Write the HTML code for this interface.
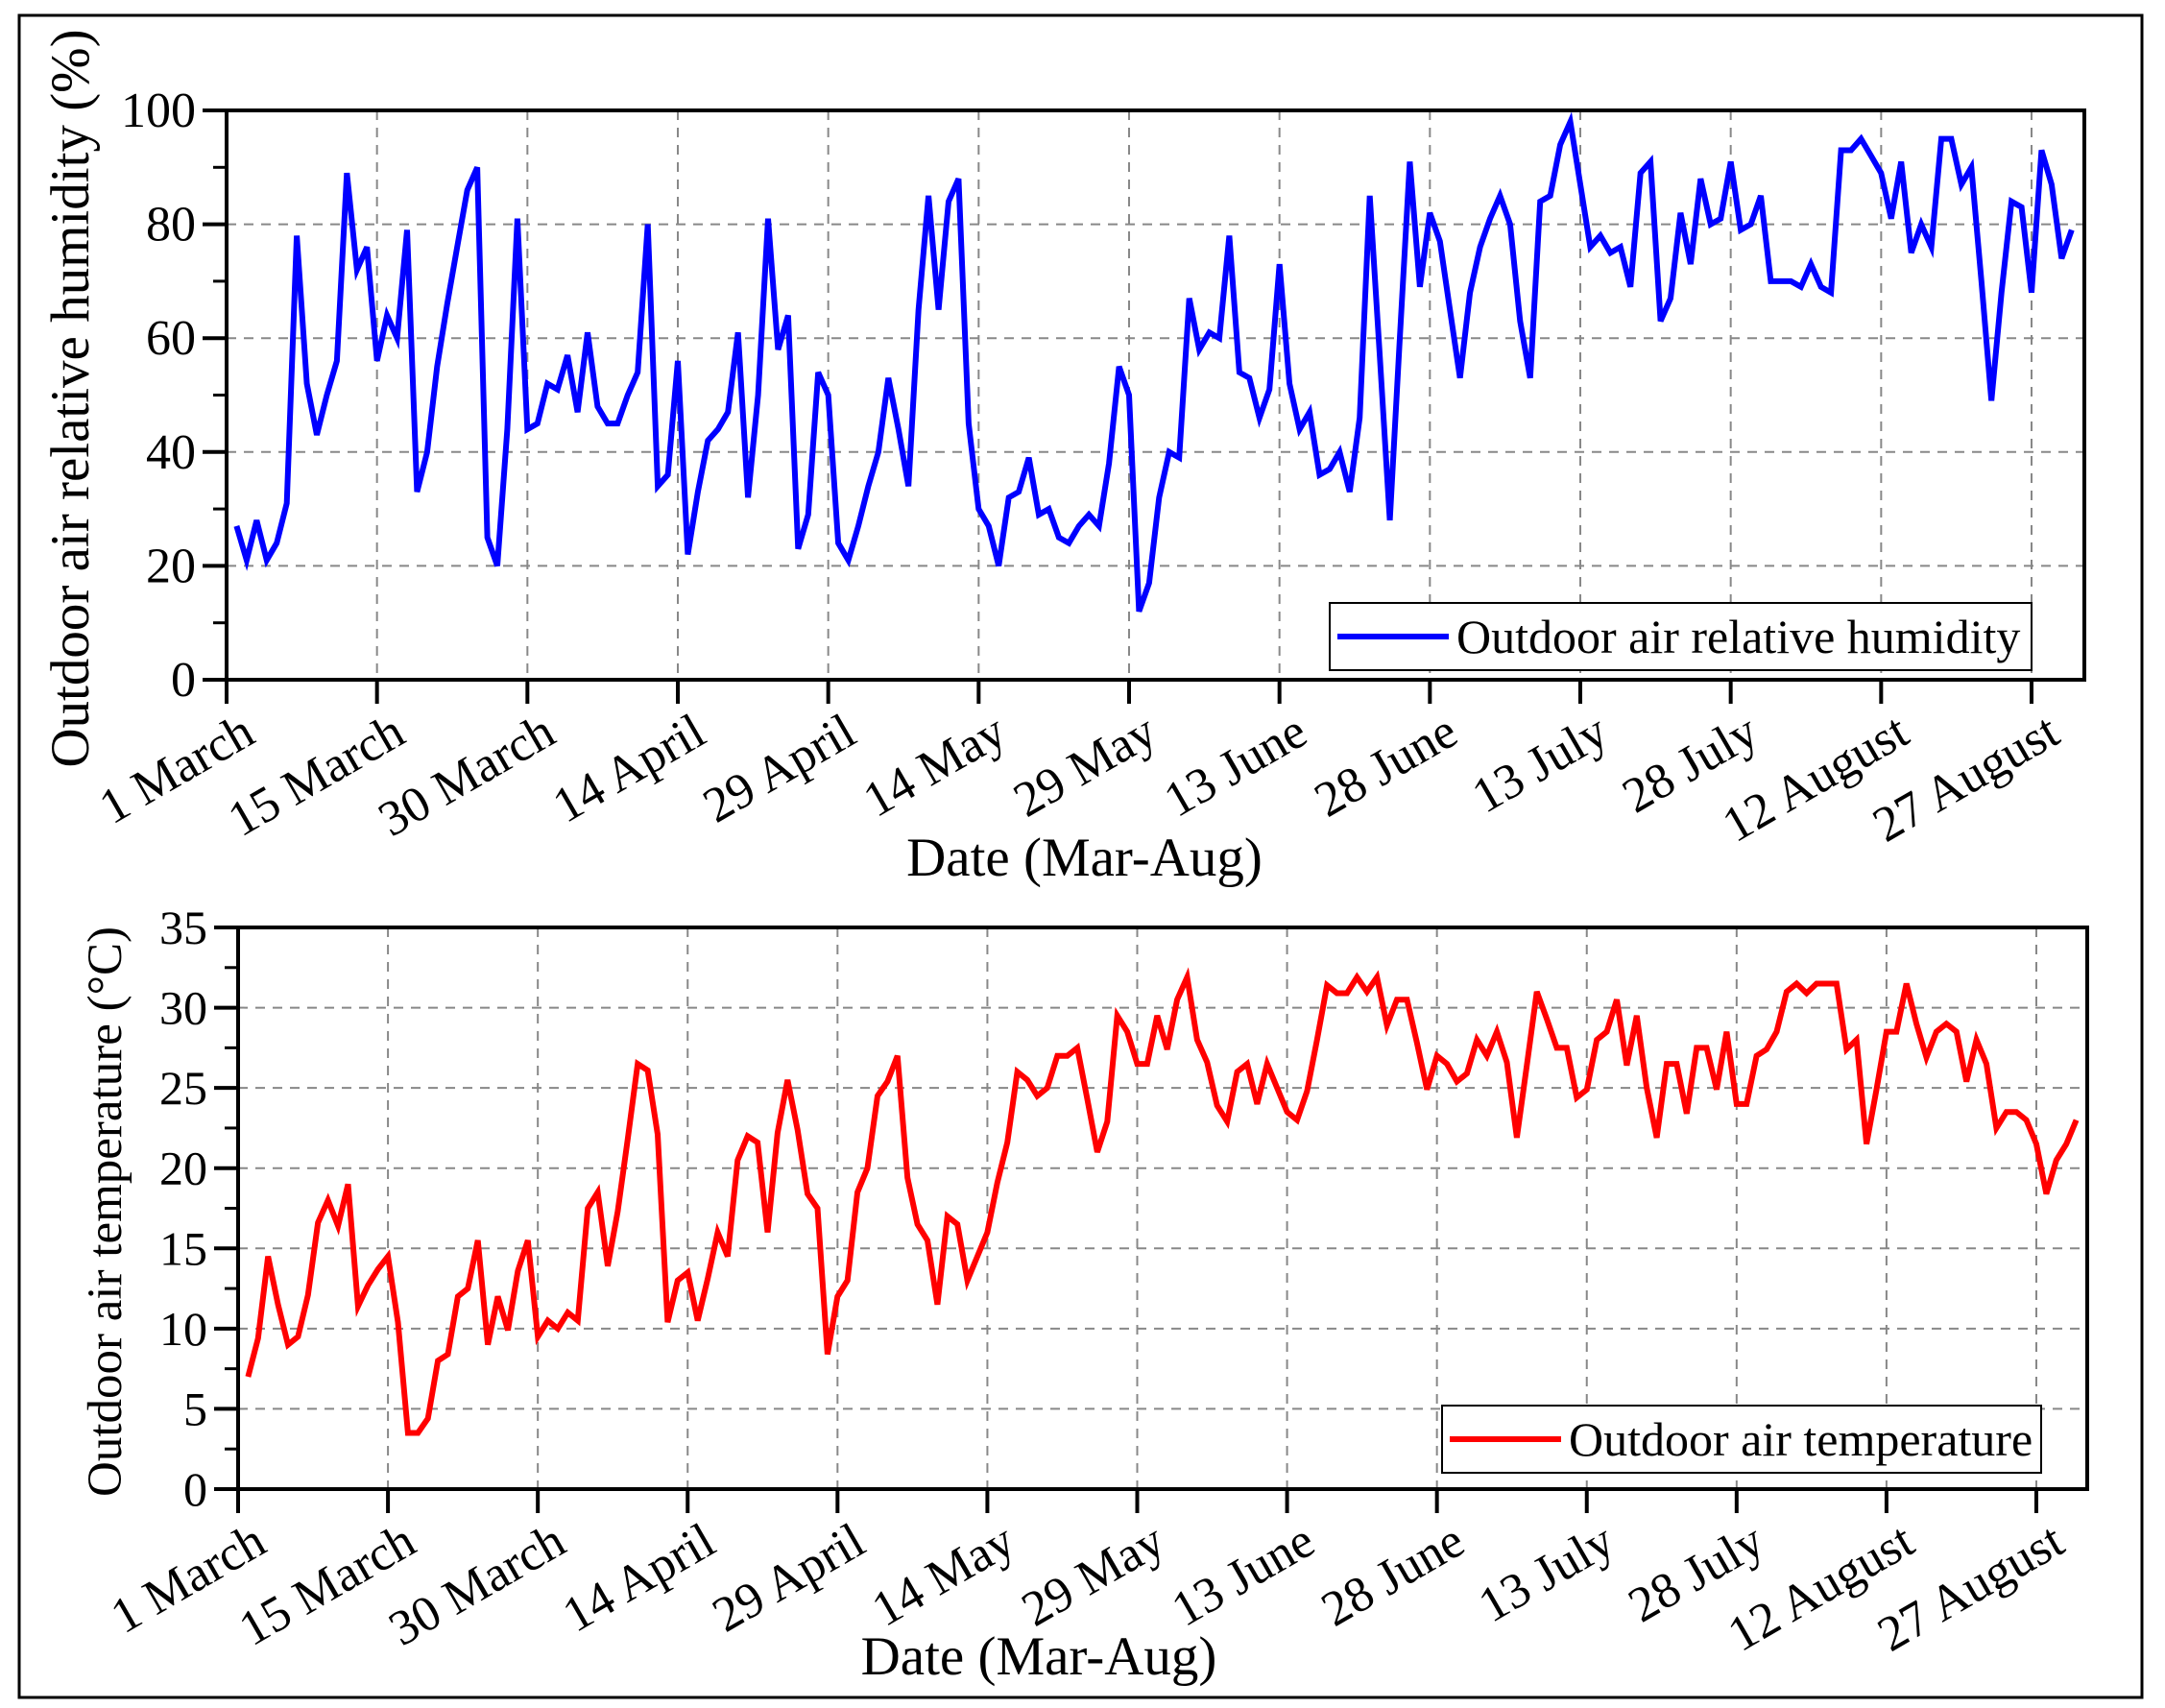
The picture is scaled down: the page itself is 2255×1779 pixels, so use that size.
<!DOCTYPE html>
<html><head><meta charset="utf-8"><style>
html,body{margin:0;padding:0;background:#fff}
svg{display:block}
text{font-family:"Liberation Serif",serif;fill:#000}
</style></head><body>
<svg id="fig" width="2255" height="1779" viewBox="0 0 2255 1779" xmlns="http://www.w3.org/2000/svg">
<rect x="20" y="16" width="2211" height="1752" fill="#fff" stroke="#000" stroke-width="3"/>
<g id="top"></g>
<g id="bot"></g>
</svg>
<script>
const dateTicks = ["1 March","15 March","30 March","14 April","29 April","14 May","29 May","13 June","28 June","13 July","28 July","12 August","27 August"];
const humTicks = [0,20,40,60,80,100];
const tempTicks = [0,5,10,15,20,25,30,35];
const humidity = [27,21,28,21,24,31,78,52,43,50,56,89,72,76,56,64,60,79,33,40,55,66,76,86,90,25,20,44,81,44,45,52,51,57,47,61,48,45,45,50,54,80,34,36,56,22,33,42,44,47,61,32,50,81,58,64,23,29,54,50,24,21,27,34,40,53,44,34,65,85,65,84,88,45,30,27,20,32,33,39,29,30,25,24,27,29,27,38,55,50,12,17,32,40,39,67,58,61,60,78,54,53,46,51,73,52,44,47,36,37,40,33,46,85,57,28,60,91,69,82,77,65,53,68,76,81,85,80,63,53,84,85,94,98,87,76,78,75,76,69,89,91,63,67,82,73,88,80,81,91,79,80,85,70,70,70,69,73,69,68,93,93,95,92,89,81,91,75,80,76,95,95,87,90,70,49,68,84,83,68,93,87,74,79];
const temperature = [7.0,9.4,14.5,11.5,9.0,9.5,12.1,16.6,18.0,16.4,19.0,11.4,12.7,13.7,14.5,10.4,3.5,3.5,4.4,8.0,8.4,12.0,12.5,15.5,9.0,12.0,9.9,13.6,15.5,9.5,10.5,10.0,11.0,10.5,17.5,18.5,13.9,17.3,21.8,26.5,26.1,22.1,10.4,13.0,13.5,10.5,13.1,16.0,14.5,20.5,22.0,21.6,16.0,22.2,25.5,22.4,18.4,17.5,8.4,12.0,13.0,18.5,20.0,24.5,25.4,27.0,19.4,16.5,15.5,11.5,17.0,16.5,13.0,14.5,16.0,19.1,21.6,26.0,25.5,24.5,25.0,27.0,27.0,27.5,24.3,21.0,22.9,29.5,28.5,26.5,26.5,29.5,27.4,30.5,31.9,28.0,26.6,23.9,22.9,26.0,26.5,24.0,26.5,25.0,23.5,23.0,24.8,28.0,31.4,30.9,30.9,31.9,31.0,31.9,28.9,30.5,30.5,27.8,24.9,27.0,26.5,25.4,25.9,28.0,27.0,28.5,26.6,21.9,26.4,31.0,29.3,27.5,27.5,24.4,24.9,28.0,28.5,30.5,26.4,29.5,25.0,21.9,26.5,26.5,23.4,27.5,27.5,24.9,28.5,24.0,24.0,27.0,27.4,28.5,31.0,31.5,30.9,31.5,31.5,31.5,27.4,28.0,21.5,24.9,28.5,28.5,31.5,29.0,26.9,28.5,29.0,28.5,25.4,28.0,26.5,22.5,23.5,23.5,23.0,21.5,18.4,20.5,21.5,23.0];

const NS="http://www.w3.org/2000/svg";
function mk(parent,tag,attrs,txt){const e=document.createElementNS(NS,tag);for(const k in attrs)e.setAttribute(k,attrs[k]);if(txt!==undefined)e.textContent=txt;parent.appendChild(e);return e;}

function drawChart(g,cfg){
  const {L,R,T,B,x0,xEnd,ymax,minor,vals,color,yTicks,yTitle,titleX,titleSize,legend,xTitleY} = cfg;
  const xs=i=>x0+i*(xEnd-x0)/180;
  const ys=v=>B-(v/ymax)*(B-T);
  for(let k=1;k<dateTicks.length;k++){
    const gl=mk(g,'line',{x1:xs(k*15),x2:xs(k*15),y1:T,y2:B,stroke:'#888','stroke-width':2,'stroke-dasharray':'10,8'});
    
    
  }
  yTicks.forEach(v=>{ if(v>0&&v<ymax){
    const gl=mk(g,'line',{x1:L,x2:R,y1:ys(v),y2:ys(v),stroke:'#888','stroke-width':2,'stroke-dasharray':'10,8'});
    
    
  }});
  const pts=vals.map((v,i)=>xs(i+1).toFixed(1)+','+ys(v).toFixed(1)).join(' ');
  const pl=mk(g,'polyline',{points:pts,fill:'none',stroke:color,'stroke-width':6,'stroke-linejoin':'miter'});
  
  
  const fr=mk(g,'rect',{x:L,y:T,width:R-L,height:B-T,fill:'none',stroke:'#000','stroke-width':4});
  
  
  yTicks.forEach(v=>{
    const t=mk(g,'line',{x1:L-25,x2:L,y1:ys(v),y2:ys(v),stroke:'#000','stroke-width':4});
    
    
    const lb=mk(g,'text',{x:L-32,y:ys(v)+17,'text-anchor':'end','font-size':cfg.yTickSize},String(v));
    
    
    if(v<ymax){
      const m=mk(g,'line',{x1:L-14,x2:L,y1:ys(v+minor),y2:ys(v+minor),stroke:'#000','stroke-width':3});
      
      
    }
  });
  dateTicks.forEach((d,k)=>{
    const x=xs(k*15);
    const t=mk(g,'line',{x1:x,x2:x,y1:B,y2:B+25,stroke:'#000','stroke-width':4});
    
    
    const ax=x+32, ay=B+64;
    const lb=mk(g,'text',{x:ax,y:ay,'text-anchor':'end','font-size':52,transform:`rotate(-30 ${ax} ${ay})`},d);
    
    
  });
  const xt=mk(g,'text',{x:(L+R)/2-(cfg.xTitleShift||0),y:xTitleY,'text-anchor':'middle','font-size':57},'Date (Mar-Aug)');
  
  
  const cy=cfg.titleCY;
  const yt=mk(g,'text',{x:titleX,y:cy,'text-anchor':'middle','font-size':titleSize,transform:`rotate(-90 ${titleX} ${cy})`},yTitle);
  
  
  const lg=mk(g,'g',{});
  
  
  const lb=mk(lg,'rect',{x:legend.x,y:legend.y,width:legend.w,height:legend.h,fill:'#fff',stroke:'#000','stroke-width':2});
  
  
  const ll=mk(lg,'line',{x1:legend.x+8,x2:legend.x+124,y1:legend.y+legend.h/2,y2:legend.y+legend.h/2,stroke:color,'stroke-width':6});
  
  
  const lt=mk(lg,'text',{x:legend.x+132,y:legend.y+legend.h/2+17,'font-size':legend.fs},legend.text);
  
  
}

drawChart(document.getElementById('top'),{L:236,R:2171,T:115,B:708,x0:236,xEnd:2116,ymax:100,minor:10,vals:humidity,color:'#0000ff',
  yTicks:humTicks,yTitle:'Outdoor air relative humidity (%)',titleX:92,titleCY:415,titleSize:57,yTickSize:52,seriesName:'humidity-line',
  xTitleY:912,xTitleShift:74,legend:{x:1385,y:628,w:731,h:70,fs:50,text:'Outdoor air relative humidity'}});
drawChart(document.getElementById('bot'),{L:248,R:2174,T:966,B:1551,x0:248,xEnd:2121,ymax:35,minor:2.5,vals:temperature,color:'#ff0000',
  yTicks:tempTicks,yTitle:'Outdoor air temperature (°C)',titleX:126,titleCY:1262,titleSize:51,yTickSize:50,seriesName:'temperature-line',
  xTitleY:1744,xTitleShift:129,legend:{x:1502,y:1464,w:624,h:70,fs:50,text:'Outdoor air temperature'}});
</script>
</body></html>
